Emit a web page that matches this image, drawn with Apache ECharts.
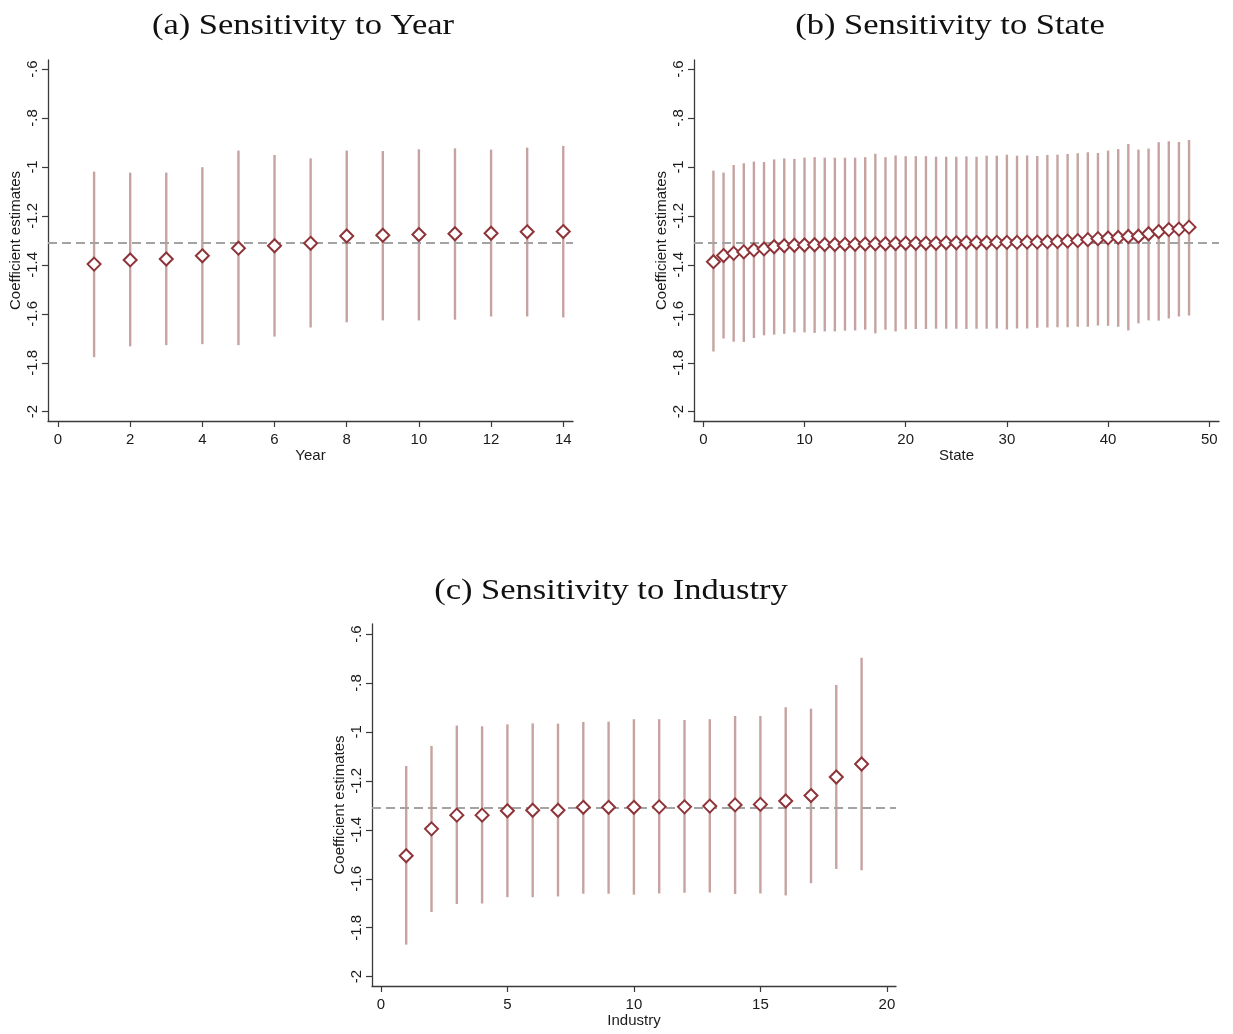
<!DOCTYPE html>
<html>
<head>
<meta charset="utf-8">
<script src="https://cdn.jsdelivr.net/npm/echarts@6/dist/echarts.min.js"></script>
<style>
html,body{margin:0;padding:0;background:#fff;}
#chart{width:1233px;height:1034px;}
</style>
</head>
<body>
<div id="chart"></div>
<script>
// ---------- DATA ----------
const baselineEstimate = -1.31;

const yearIdx = [1,2,3,4,5,6,7,8,9,10,11,12,13,14];
const yearCoef = [-1.397,-1.380,-1.376,-1.363,-1.332,-1.322,-1.312,-1.282,-1.279,-1.276,-1.273,-1.271,-1.265,-1.264];
const yearHi   = [-1.019,-1.023,-1.023,-1.001,-0.933,-0.951,-0.965,-0.933,-0.935,-0.928,-0.924,-0.929,-0.921,-0.914];
const yearLo   = [-1.777,-1.733,-1.728,-1.724,-1.728,-1.693,-1.656,-1.635,-1.627,-1.627,-1.624,-1.611,-1.611,-1.615];

const stateIdx = [1,2,3,4,5,6,7,8,9,10,11,12,13,14,15,16,17,18,19,20,21,22,23,24,25,26,27,28,29,30,31,32,33,34,35,36,37,38,39,40,41,42,43,44,45,46,47,48];
const stateCoef = [-1.387,-1.362,-1.353,-1.347,-1.339,-1.335,-1.326,-1.322,-1.320,-1.319,-1.318,-1.317,-1.317,-1.316,-1.316,-1.315,-1.314,-1.314,-1.313,-1.312,-1.312,-1.312,-1.312,-1.310,-1.310,-1.309,-1.309,-1.309,-1.308,-1.308,-1.308,-1.307,-1.307,-1.306,-1.305,-1.303,-1.301,-1.297,-1.293,-1.290,-1.288,-1.284,-1.283,-1.273,-1.264,-1.256,-1.254,-1.246];
const stateHi = [-1.015,-1.023,-0.992,-0.985,-0.978,-0.980,-0.969,-0.965,-0.967,-0.962,-0.960,-0.962,-0.962,-0.962,-0.962,-0.960,-0.946,-0.960,-0.953,-0.956,-0.956,-0.956,-0.958,-0.958,-0.958,-0.957,-0.958,-0.954,-0.954,-0.950,-0.954,-0.953,-0.955,-0.951,-0.950,-0.947,-0.944,-0.940,-0.943,-0.933,-0.927,-0.906,-0.929,-0.925,-0.899,-0.895,-0.898,-0.890];
const stateLo = [-1.754,-1.701,-1.714,-1.715,-1.699,-1.688,-1.685,-1.682,-1.676,-1.676,-1.678,-1.672,-1.672,-1.669,-1.668,-1.665,-1.680,-1.665,-1.672,-1.663,-1.662,-1.662,-1.661,-1.661,-1.661,-1.662,-1.661,-1.661,-1.660,-1.664,-1.660,-1.660,-1.657,-1.656,-1.655,-1.655,-1.653,-1.653,-1.648,-1.649,-1.653,-1.668,-1.639,-1.627,-1.628,-1.619,-1.611,-1.607];

const indIdx = [1,2,3,4,5,6,7,8,9,10,11,12,13,14,15,16,17,18,19];
const indCoef = [-1.506,-1.396,-1.340,-1.340,-1.322,-1.320,-1.320,-1.308,-1.308,-1.308,-1.306,-1.306,-1.303,-1.298,-1.296,-1.282,-1.260,-1.184,-1.131];
const indHi   = [-1.139,-1.057,-0.974,-0.977,-0.969,-0.965,-0.966,-0.959,-0.958,-0.948,-0.948,-0.951,-0.948,-0.935,-0.935,-0.899,-0.905,-0.808,-0.697];
const indLo   = [-1.869,-1.736,-1.703,-1.701,-1.675,-1.675,-1.672,-1.661,-1.661,-1.665,-1.660,-1.657,-1.656,-1.662,-1.660,-1.668,-1.618,-1.560,-1.565];

const yTickValues = [-2,-1.8,-1.6,-1.4,-1.2,-1,-0.8,-0.6];
const yTickLabels = ['-2','-1.8','-1.6','-1.4','-1.2','-1','-.8','-.6'];
const yearTicks  = [0,2,4,6,8,10,12,14];
const stateTicks = [0,10,20,30,40,50];
const indTicks   = [0,5,10,15,20];

const titles = ['(a) Sensitivity to Year','(b) Sensitivity to State','(c) Sensitivity to Industry'];
const xNames = ['Year','State','Industry'];
const yName = 'Coefficient estimates';

// ---------- STYLE ----------
const markerColor = '#8e3439';
const whiskerColor = '#c6a3a1';
const axisColor = '#3a3a3a';
const textColor = '#1a1a1a';
const sansFont = 'Liberation Sans, Arial, sans-serif';
const titleFont = '30px "Liberation Serif", serif';
const titleStretch = 1.15;

const chart = echarts.init(document.getElementById('chart'), null, {renderer:'canvas'});

function fmtY(v){
  const i = yTickValues.findIndex(t => Math.abs(t - v) < 1e-6);
  return i >= 0 ? yTickLabels[i] : '';
}

function makeX(gi, min, max, ticks, name){
  return {
    gridIndex: gi, type:'value', min:min, max:max,
    name:name, nameLocation:'middle', nameGap:27,
    nameTextStyle:{color:textColor, fontSize:15, fontFamily:sansFont},
    axisLine:{show:true, onZero:false, lineStyle:{color:axisColor, width:1.3}},
    axisTick:{show:true, length:6, lineStyle:{color:axisColor, width:1.2}, customValues:ticks},
    axisLabel:{show:true, color:textColor, fontSize:15, fontFamily:sansFont, margin:11, customValues:ticks},
    splitLine:{show:false}
  };
}
function makeY(gi, min, max){
  return {
    gridIndex: gi, type:'value', min:min, max:max,
    name:yName, nameLocation:'middle', nameGap:25, nameRotate:90,
    nameTextStyle:{color:textColor, fontSize:15, fontFamily:sansFont},
    axisLine:{show:true, onZero:false, lineStyle:{color:axisColor, width:1.3}},
    axisTick:{show:true, length:6, lineStyle:{color:axisColor, width:1.2}, customValues:yTickValues},
    axisLabel:{show:true, rotate:90, color:textColor, fontSize:15, fontFamily:sansFont, margin:8,
      customValues:yTickValues, formatter:fmtY},
    splitLine:{show:false}
  };
}

function whiskerSeries(gi, xs, lo, hi){
  return {
    type:'custom', xAxisIndex:gi, yAxisIndex:gi, z:2, silent:true,
    data: xs.map((x,i)=>[x, lo[i], hi[i]]),
    encode:{x:0, y:[1,2]},
    renderItem:function(params, api){
      const a = api.coord([api.value(0), api.value(1)]);
      const b = api.coord([api.value(0), api.value(2)]);
      return {type:'line', shape:{x1:a[0], y1:a[1], x2:b[0], y2:b[1]},
        style:{stroke:whiskerColor, lineWidth:2.4}};
    },
    markLine:{
      silent:true, symbol:['none','none'], label:{show:false},
      lineStyle:{color:'#a3a3a3', type:[9,5], width:2},
      data:[{yAxis: baselineEstimate}],
      animation:false
    }
  };
}
function pointSeries(gi, xs, ys){
  return {
    type:'scatter', xAxisIndex:gi, yAxisIndex:gi, z:5, silent:true,
    symbol:'diamond', symbolSize:[13,13],
    itemStyle:{color:'#ffffff', borderColor:markerColor, borderWidth:2, opacity:1},
    data: xs.map((x,i)=>[x, ys[i]])
  };
}

function titleText(txt, x, y){
  return {type:'text', x:x, y:y, scaleX:titleStretch, scaleY:1,
    style:{text:txt, font:titleFont, fill:'#111', textAlign:'center', textVerticalAlign:'middle'}};
}

const option = {
  animation:false,
  backgroundColor:'#ffffff',
  graphic:[
    titleText(titles[0], 303, 26),
    titleText(titles[1], 950, 26),
    titleText(titles[2], 611, 591)
  ],
  grid:[
    {left:48, top:60, width:525, height:361, containLabel:false},
    {left:694, top:60, width:525, height:361, containLabel:false},
    {left:372, top:624, width:524, height:362, containLabel:false}
  ],
  xAxis:[
    makeX(0, -0.277, 14.27, yearTicks, xNames[0]),
    makeX(1, -0.92, 50.96, stateTicks, xNames[1]),
    makeX(2, -0.352, 20.36, indTicks, xNames[2])
  ],
  yAxis:[
    makeY(0, -2.038, -0.563),
    makeY(1, -2.038, -0.563),
    makeY(2, -2.038, -0.559)
  ],
  series:[
    whiskerSeries(0, yearIdx, yearLo, yearHi),
    pointSeries(0, yearIdx, yearCoef),
    whiskerSeries(1, stateIdx, stateLo, stateHi),
    pointSeries(1, stateIdx, stateCoef),
    whiskerSeries(2, indIdx, indLo, indHi),
    pointSeries(2, indIdx, indCoef)
  ]
};
chart.setOption(option);
</script>
</body>
</html>
